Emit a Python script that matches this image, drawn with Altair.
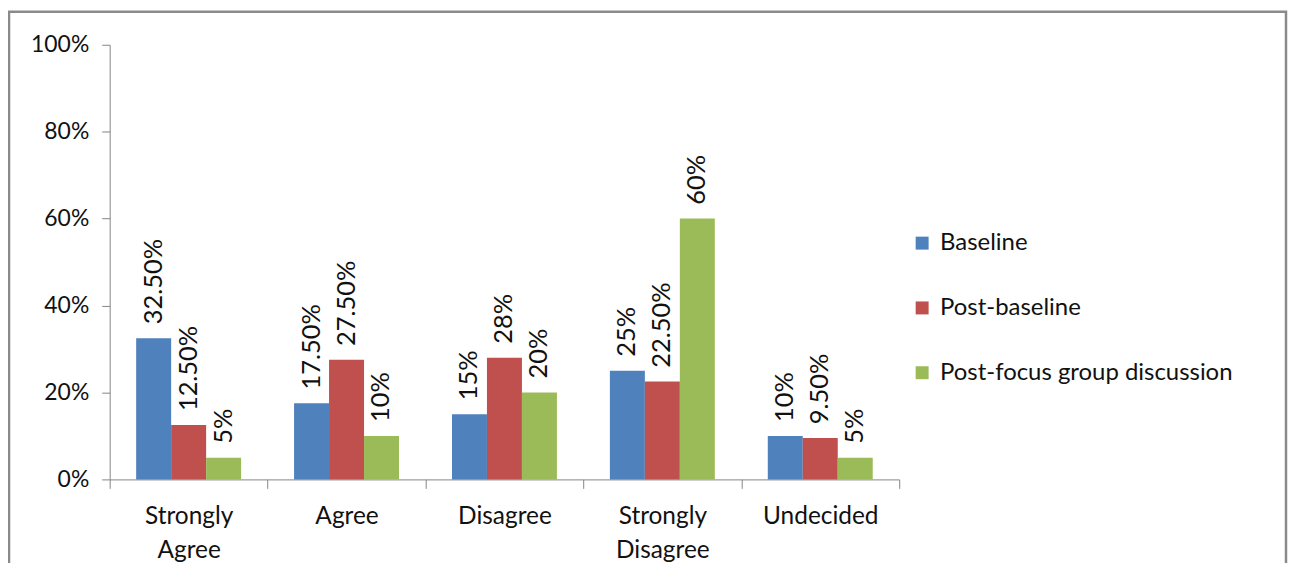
import altair as alt
import pandas as pd

categories = ["Strongly Agree", "Agree", "Disagree", "Strongly Disagree", "Undecided"]
series_names = ["Baseline", "Post-baseline", "Post-focus group discussion"]
baseline = [0.325, 0.175, 0.15, 0.25, 0.10]
post_baseline = [0.125, 0.275, 0.28, 0.225, 0.095]
post_focus = [0.05, 0.10, 0.20, 0.60, 0.05]
baseline_labels = ["32.50%", "17.50%", "15%", "25%", "10%"]
post_baseline_labels = ["12.50%", "27.50%", "28%", "22.50%", "9.50%"]
post_focus_labels = ["5%", "10%", "20%", "60%", "5%"]
colors = ["#4F81BD", "#C0504D", "#9BBB59"]
y_ticks = [0, 0.2, 0.4, 0.6, 0.8, 1.0]

rows = []
for vals, labs, name in zip([baseline, post_baseline, post_focus],
                            [baseline_labels, post_baseline_labels, post_focus_labels],
                            series_names):
    for c, v, l in zip(categories, vals, labs):
        rows.append({"category": c, "series": name, "value": v, "label": l})
df = pd.DataFrame(rows)

FONT = "Lato"
AXIS_GRAY = "#868686"
TXT = "#111111"

base = alt.Chart(df).encode(
    x=alt.X(
        "category:N",
        sort=categories,
        scale=alt.Scale(paddingInner=0, paddingOuter=0),
        axis=alt.Axis(
            title=None, labelAngle=0, labelExpr="split(datum.label, ' ')",
            tickBand="extent", tickSize=9, labelPadding=16, labelLineHeight=34,
            labelFontSize=24.5, labelFont=FONT, labelColor=TXT,
            domainColor=AXIS_GRAY, tickColor=AXIS_GRAY, grid=False,
        ),
    ),
    xOffset=alt.XOffset("series:N", sort=series_names,
                        scale=alt.Scale(paddingInner=0, paddingOuter=0.757)),
    y=alt.Y(
        "value:Q",
        scale=alt.Scale(domain=[0, 1], nice=False),
        axis=alt.Axis(
            title=None, values=y_ticks, format=".0%", grid=False, tickSize=8,
            labelPadding=13, labelFontSize=23, labelFont=FONT, labelColor=TXT,
            domainColor=AXIS_GRAY, tickColor=AXIS_GRAY,
        ),
    ),
)

bars = base.mark_bar().encode(
    color=alt.Color(
        "series:N", sort=series_names,
        scale=alt.Scale(domain=series_names, range=colors),
        legend=alt.Legend(
            title=None, orient="none", legendX=803, legendY=187,
            symbolType="square", symbolSize=169, symbolStrokeWidth=0,
            labelFontSize=24, labelFont=FONT, labelColor=TXT, labelLimit=0,
            rowPadding=41, labelOffset=6,
        ),
    )
)

text = base.mark_text(
    angle=270, align="left", baseline="middle", dx=14,
    fontSize=25.5, font=FONT, color=TXT,
).encode(text="label:N")

border = alt.Chart(alt.Data(values=[{"a": 1}])).mark_rect(
    fillOpacity=0, stroke="#8a8a8a", strokeWidth=2.5
).encode(
    x=alt.value(-101), x2=alt.value(1180), y=alt.value(-33), y2=alt.value(600)
)

chart = alt.layer(border, bars, text).properties(
    width=792, height=436,
    padding={"left": 102, "top": 36, "right": 390, "bottom": 83},
    autosize=alt.AutoSizeParams(type="none"),
).configure_view(stroke=None)

chart.save("out.html", embed_options={"renderer": "svg", "actions": False})
